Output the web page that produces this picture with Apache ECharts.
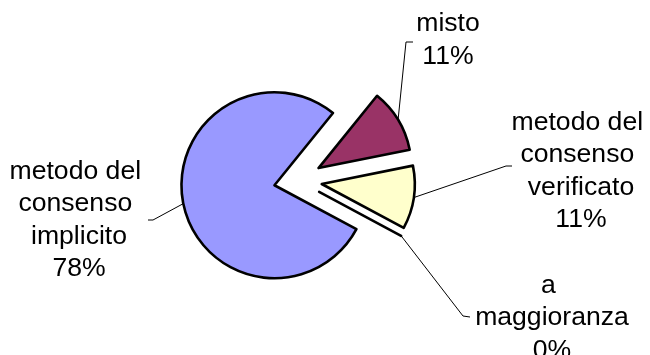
<!DOCTYPE html>
<html>
<head>
<meta charset="utf-8">
<script src="https://cdn.jsdelivr.net/npm/echarts@6/dist/echarts.min.js"></script>
<style>
  html, body { margin: 0; padding: 0; background: #ffffff; }
  #chart { width: 650px; height: 355px; }
</style>
</head>
<body>
<div id="chart"></div>
<script>
// Decision methods and their shares (%)
const categories = ['misto', 'metodo del consenso verificato', 'a maggioranza', 'metodo del consenso implicito'];
const shares = [11, 11, 0, 78];
const sliceColors = ['#993366', '#FFFFCC', '#33CCCC', '#9999FF'];

// Pie geometry
const PIE_CENTER = [298, 180.5];
const PIE_RADIUS = 93;
const START_ANGLE = 51;
const EXPLODE = 24;

// Where each label block sits, and where its leader line meets it
const labelCenters = [[448, 40], [581, 171], [552, 318], [79, 220]];
const leaderElbows = [[406, 42], [506, 166], [463, 316], [153, 220]];
const leaderEnds = [[413, 42], [512, 166], [470, 317], [148, 220]];

const chart = echarts.init(document.getElementById('chart'), null, { renderer: 'canvas' });

const pieData = categories.map(function (name, i) {
  return { name: name, value: shares[i] };
});

const labelStyle = {
  show: true,
  position: 'outer',
  formatter: '{b}\n{d}%',
  width: 165,
  overflow: 'break',
  align: 'center',
  verticalAlign: 'middle',
  fontFamily: 'Liberation Sans, Arial, sans-serif',
  fontSize: 26.6,
  lineHeight: 32.5,
  color: '#000000'
};

chart.setOption({
  backgroundColor: '#ffffff',
  animation: false,
  series: [
    {
      // exploded slices
      type: 'pie',
      center: PIE_CENTER,
      radius: PIE_RADIUS,
      startAngle: START_ANGLE,
      clockwise: true,
      selectedMode: 'multiple',
      selectedOffset: EXPLODE,
      silent: true,
      itemStyle: { borderColor: '#000000', borderWidth: 2.6 },
      emphasis: { disabled: true },
      label: { show: false },
      labelLine: { show: false },
      data: pieData.map(function (d, i) {
        return {
          name: d.name,
          value: d.value,
          selected: true,
          itemStyle: { color: sliceColors[i] }
        };
      })
    },
    {
      // labels and leader lines for the same slices
      type: 'pie',
      center: PIE_CENTER,
      radius: PIE_RADIUS,
      startAngle: START_ANGLE,
      clockwise: true,
      silent: true,
      avoidLabelOverlap: false,
      percentPrecision: 0,
      itemStyle: { color: 'rgba(0,0,0,0)', borderWidth: 0 },
      emphasis: { disabled: true },
      label: labelStyle,
      labelLine: {
        show: true,
        length: 20,
        length2: 10,
        lineStyle: { color: '#000000', width: 1 }
      },
      labelLayout: function (params) {
        const i = params.dataIndex;
        let start = leaderElbows[i];
        if (params.labelLinePoints && params.labelLinePoints[0]) {
          // push the leader's start out with the exploded slice
          const p = params.labelLinePoints[0];
          const vx = p[0] - PIE_CENTER[0];
          const vy = p[1] - PIE_CENTER[1];
          const len = Math.sqrt(vx * vx + vy * vy) || 1;
          start = [p[0] + EXPLODE * vx / len, p[1] + EXPLODE * vy / len];
        }
        return {
          x: labelCenters[i][0],
          y: labelCenters[i][1],
          align: 'center',
          verticalAlign: 'middle',
          labelLinePoints: [start, leaderElbows[i], leaderEnds[i]]
        };
      },
      data: pieData
    }
  ]
});
</script>
</body>
</html>
